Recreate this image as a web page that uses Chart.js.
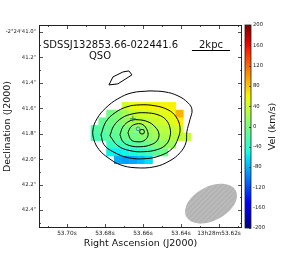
<!DOCTYPE html>
<html><head><meta charset="utf-8">
<script src="https://cdn.jsdelivr.net/npm/chart.js@4.4.0/dist/chart.umd.min.js"></script>
<style>html,body{margin:0;padding:0;background:#fff}canvas{display:block}</style>
</head><body>
<canvas id="c" width="283" height="254"></canvas>
<script>
// ---------------- data ----------------
const objectName = 'SDSSJ132853.66-022441.6';
const objectType = 'QSO';
const scaleBarLabel = '2kpc';
const scaleBarArcsec = 0.3;
const xLabel = 'Right Ascension (J2000)';
const yLabel = 'Declination (J2000)';
const cbLabel = 'Vel (km/s)';
const xTickValues = [53.62, 53.64, 53.66, 53.68, 53.70];
const xTickLabels = ['13h28m53.62s', '53.64s', '53.66s', '53.68s', '53.70s'];
const yTickValues = [41.0, 41.2, 41.4, 41.6, 41.8, 42.0, 42.2, 42.4];
const yTickLabels = ['-2°24\'41.0"', '41.2"', '41.4"', '41.6"', '41.8"', '42.0"', '42.2"', '42.4"'];
const xRange = [53.6079, 53.7147];   // RA seconds (plotted reversed)
const yRange = [40.945, 42.541];     // Dec arcsec (plotted reversed)
const velRange = [-200, 200];
const velTicks = [200, 160, 120, 80, 40, 0, -40, -80, -120, -160, -200];

// velocity map: spaxel grid (RA s, Dec arcsec of first cell centre, step)
const gridX0 = 53.6853, gridDX = -0.00405, gridY0 = 41.5831, gridDY = 0.0604;
const velRow0 = [null, null, null, null, 40, 55, 58, 60, 62, 60, 62, null, null];
const velRow1 = [null, null, -5, 5, 20, 35, 40, 42, 45, 50, 55, 88, null];
const velRow2 = [null, -12, -5, 0, 12, 22, 28, 32, 38, 42, 48, 62, null];
const velRow3 = [-22, -18, -12, -8, -2, 4, 8, 16, 24, 30, 36, 42, null];
const velRow4 = [-25, -22, -18, -14, -8, -3, 3, 10, 16, 22, 28, 32, 38];
const velRow5 = [null, null, -35, -30, -24, -18, -12, -5, 4, 10, 16, null, null];
const velRow6 = [null, null, -55, -56, -52, -46, -38, -28, -16, -6, null, null, null];
const velRow7 = [null, null, null, -82, -88, -85, -75, -62, null, null, null, null, null];
const velRows = [velRow0, velRow1, velRow2, velRow3, velRow4, velRow5, velRow6, velRow7];

// flux contours (RA s, Dec arcsec)
const contour1 = [[53.6563,41.463],[53.6484,41.471],[53.6416,41.502],[53.6363,41.557],[53.6342,41.612],[53.6353,41.690],[53.6369,41.784],[53.6374,41.871],[53.6405,41.949],[53.6458,42.012],[53.6537,42.059],[53.6642,42.067],[53.6721,42.043],[53.6784,41.988],[53.6831,41.925],[53.6858,41.847],[53.6863,41.769],[53.6842,41.682],[53.6795,41.596],[53.6732,41.525],[53.6658,41.478],[53.6563,41.463]];
const contour2 = [[53.6821,41.808],[53.6795,41.706],[53.6747,41.635],[53.6684,41.588],[53.6616,41.573],[53.6537,41.580],[53.6468,41.612],[53.6426,41.667],[53.6405,41.753],[53.6416,41.839],[53.6447,41.918],[53.6511,41.973],[53.6589,41.996],[53.6679,41.988],[53.6758,41.941],[53.6805,41.886],[53.6821,41.808]];
const contour3 = [[53.6774,41.816],[53.6753,41.737],[53.6710,41.675],[53.6653,41.643],[53.6589,41.635],[53.6521,41.651],[53.6479,41.690],[53.6458,41.753],[53.6458,41.824],[53.6479,41.886],[53.6526,41.925],[53.6595,41.941],[53.6668,41.933],[53.6732,41.894],[53.6774,41.816]];
const contour4 = [[53.6721,41.808],[53.6705,41.745],[53.6668,41.698],[53.6626,41.690],[53.6574,41.706],[53.6537,41.745],[53.6516,41.800],[53.6526,41.855],[53.6558,41.886],[53.6611,41.902],[53.6668,41.894],[53.6705,41.863],[53.6721,41.808]];
const contour5 = [[53.6679,41.792],[53.6663,41.745],[53.6632,41.722],[53.6600,41.729],[53.6579,41.769],[53.6574,41.816],[53.6595,41.855],[53.6632,41.863],[53.6663,41.847],[53.6679,41.792]];
const contourBlob = [[53.6779,41.416],[53.6732,41.408],[53.6658,41.337],[53.6674,41.306],[53.6705,41.314],[53.6758,41.353],[53.6779,41.416]];

const crossMark = [[53.6653, 41.682]];
const blueMark = [[53.6626, 41.761]];
const qsoMark = [[53.6605, 41.784]];

// beam: centre (RA s, Dec arcsec), semi-axes (arcsec), angle (deg, from horizontal)
const beamCentre = [53.6242, 42.349];
const beamAxes = [0.22, 0.133];
const beamAngle = 28;

// ---------------- helpers ----------------
const FONT = '"DejaVu Sans", Verdana, sans-serif';
const jetR = [[0,0],[0.35,0],[0.66,1],[0.89,1],[1,0.5]];
const jetG = [[0,0],[0.125,0],[0.375,1],[0.64,1],[0.91,0],[1,0]];
const jetB = [[0,0.5],[0.11,1],[0.34,1],[0.65,0],[1,0]];
function seg(tab, t) {
  for (let i = 1; i < tab.length; i++) {
    if (t <= tab[i][0]) {
      const a = tab[i-1], b = tab[i];
      return a[1] + (b[1]-a[1]) * (t-a[0]) / (b[0]-a[0]);
    }
  }
  return tab[tab.length-1][1];
}
function jet(t) {
  t = Math.max(0, Math.min(1, t));
  return 'rgb(' + Math.round(255*seg(jetR,t)) + ',' + Math.round(255*seg(jetG,t)) + ',' + Math.round(255*seg(jetB,t)) + ')';
}
function velColor(v) { return jet((v - velRange[0]) / (velRange[1] - velRange[0])); }
const pts = a => a.map(p => ({x: p[0], y: p[1]}));

const cellPoints = [], cellColors = [];
velRows.forEach((row, r) => row.forEach((v, c) => {
  if (v === null) return;
  cellPoints.push({x: gridX0 + c*gridDX, y: gridY0 + r*gridDY, v: v});
  cellColors.push(velColor(v));
}));

function cellRadius(ctx) {
  const s = ctx.chart.scales.x;
  if (!s) return 4;
  const side = Math.abs(s.getPixelForValue(gridX0) - s.getPixelForValue(gridX0 + gridDX)) + 0.4;
  return side / Math.SQRT2;
}

function contourDS(arr, tension) {
  return {type: 'scatter', data: pts(arr), showLine: true, borderColor: '#000', borderWidth: 1,
    pointRadius: 0, tension: tension, fill: false, order: 1};
}

// ---------------- plugins ----------------
const decor = {
  id: 'decor',
  afterDatasetsDraw(chart) {
    const {ctx, chartArea: ca, scales: {x, y}} = chart;
    // beam
    const cx = x.getPixelForValue(beamCentre[0]), cy = y.getPixelForValue(beamCentre[1]);
    const pxPerArc = Math.abs(y.getPixelForValue(yRange[0] + 1) - y.getPixelForValue(yRange[0]));
    const a = beamAxes[0]*pxPerArc, b = beamAxes[1]*pxPerArc;
    ctx.save();
    ctx.beginPath();
    ctx.ellipse(cx, cy, a, b, -beamAngle*Math.PI/180, 0, Math.PI*2);
    ctx.fillStyle = '#b3b3b3';
    ctx.fill();
    ctx.clip();
    ctx.strokeStyle = '#c9c9c9';
    ctx.lineWidth = 0.8;
    for (let k = -80; k <= 80; k += 5) {
      ctx.beginPath();
      ctx.moveTo(cx + k - 40, cy + 40);
      ctx.lineTo(cx + k + 40, cy - 40);
      ctx.stroke();
    }
    ctx.restore();
  },
  afterDraw(chart) {
    const {ctx, chartArea: ca, scales: {x, y, cb}} = chart;
    ctx.save();
    // frame
    ctx.strokeStyle = '#222';
    ctx.lineWidth = 1;
    ctx.strokeRect(ca.left + 0.5, ca.top + 0.5, ca.right - ca.left - 1, ca.bottom - ca.top - 1);
    // x ticks (major 0.02 s, minor 0.01 s)
    ctx.lineWidth = 0.8;
    for (let k = Math.ceil(x.min/0.01 - 1e-6); k <= Math.floor(x.max/0.01 + 1e-6); k++) {
      const v = k*0.01, px = Math.round(x.getPixelForValue(v)) + 0.5;
      const maj = (k % 2 === 0), L = maj ? 4 : 2;
      ctx.beginPath();
      ctx.moveTo(px, ca.bottom); ctx.lineTo(px, ca.bottom - L);
      ctx.moveTo(px, ca.top); ctx.lineTo(px, ca.top + L);
      ctx.stroke();
    }
    // y ticks (major 0.2", minor 0.1")
    for (let k = Math.ceil(y.min*10 - 1e-6); k <= Math.floor(y.max*10 + 1e-6); k++) {
      const v = k/10, py = Math.round(y.getPixelForValue(v)) + 0.5;
      const maj = (k % 2 === 0), L = maj ? 4 : 2;
      ctx.beginPath();
      ctx.moveTo(ca.left, py); ctx.lineTo(ca.left + L, py);
      ctx.moveTo(ca.right, py); ctx.lineTo(ca.right - L, py);
      ctx.stroke();
    }
    // colour bar
    const bx = ca.right + 3, bw = 6;
    const t0 = cb.getPixelForValue(velRange[1]), t1 = cb.getPixelForValue(velRange[0]);
    const g = ctx.createLinearGradient(0, t0, 0, t1);
    for (let i = 0; i <= 40; i++) g.addColorStop(i/40, jet(1 - i/40));
    ctx.fillStyle = g;
    ctx.fillRect(bx, t0, bw, t1 - t0);
    ctx.strokeStyle = '#222';
    ctx.lineWidth = 0.8;
    ctx.strokeRect(bx, t0, bw, t1 - t0);
    velTicks.forEach(v => {
      const py = Math.round(cb.getPixelForValue(v)) + 0.5;
      ctx.beginPath(); ctx.moveTo(bx + bw, py); ctx.lineTo(bx + bw - 2, py); ctx.stroke();
    });
    // colour bar label
    ctx.fillStyle = '#111';
    ctx.font = '9.5px ' + FONT;
    ctx.textAlign = 'center'; ctx.textBaseline = 'middle';
    ctx.translate(273, (ca.top + ca.bottom)/2);
    ctx.rotate(-Math.PI/2);
    ctx.fillText(cbLabel, 0, 0);
    ctx.setTransform(1,0,0,1,0,0);
    // object name
    ctx.font = '10px ' + FONT;
    ctx.fillStyle = '#111';
    ctx.textAlign = 'left';
    ctx.fillText(objectName, ca.left + 4, ca.top + 20);
    ctx.textAlign = 'center';
    ctx.fillText(objectType, ca.left + 61, ca.top + 31);
    // scale bar
    const pxPerArc = Math.abs(y.getPixelForValue(yRange[0] + 1) - y.getPixelForValue(yRange[0]));
    const sbLen = scaleBarArcsec * pxPerArc, sbC = ca.right - 31;
    ctx.fillText(scaleBarLabel, sbC, ca.top + 20);
    ctx.strokeStyle = '#000'; ctx.lineWidth = 1;
    ctx.beginPath();
    ctx.moveTo(sbC - sbLen/2, ca.top + 25.5); ctx.lineTo(sbC + sbLen/2, ca.top + 25.5);
    ctx.stroke();
    ctx.restore();
  }
};

// ---------------- chart ----------------
new Chart(document.getElementById('c'), {
  type: 'scatter',
  data: {
    datasets: [
      {data: cellPoints, order: 10, pointStyle: 'rect', pointRadius: cellRadius, pointBorderWidth: 0,
       borderWidth: 0, pointBackgroundColor: cellColors, backgroundColor: cellColors},
      contourDS(contour1, 0.4), contourDS(contour2, 0.4), contourDS(contour3, 0.4),
      contourDS(contour4, 0.4), contourDS(contour5, 0.4), contourDS(contourBlob, 0),
      {data: pts(crossMark), order: 0, pointStyle: 'cross', pointRadius: 3, borderColor: '#2b8c5a', borderWidth: 1, backgroundColor: 'transparent'},
      {data: pts(blueMark), order: 0, pointStyle: 'circle', pointRadius: 1.8, borderColor: '#3a7fd0', borderWidth: 1, backgroundColor: 'transparent'},
      {data: pts(qsoMark), order: 0, pointStyle: 'circle', pointRadius: 2.4, borderColor: '#000', borderWidth: 1, backgroundColor: 'transparent'}
    ]
  },
  options: {
    responsive: false, animation: false, events: [],
    layout: {padding: {top: 25, left: 0, right: 0, bottom: 0}},
    plugins: {legend: {display: false}, tooltip: {enabled: false}},
    scales: {
      x: {type: 'linear', position: 'bottom', reverse: true, min: xRange[0], max: xRange[1],
        grid: {display: false, drawTicks: false}, border: {display: false},
        afterBuildTicks: s => { s.ticks = xTickValues.map(v => ({value: v})); },
        afterFit: s => { s.height = 26; },
        ticks: {autoSkip: false, maxRotation: 0, padding: 2, color: '#222',
          font: {family: FONT, size: 5.8},
          callback: v => { const i = xTickValues.findIndex(t => Math.abs(t - v) < 1e-6); return i >= 0 ? xTickLabels[i] : ''; }},
        title: {display: true, text: xLabel, color: '#111', font: {family: FONT, size: 9.5}, padding: {top: 0, bottom: 5}}
      },
      y: {type: 'linear', position: 'left', reverse: true, min: yRange[0], max: yRange[1],
        grid: {display: false, drawTicks: false}, border: {display: false},
        afterBuildTicks: s => { s.ticks = yTickValues.map(v => ({value: v})); },
        afterFit: s => { s.width = 39; },
        ticks: {autoSkip: false, padding: 3, color: '#222', font: {family: FONT, size: 5.3},
          callback: v => { const i = yTickValues.findIndex(t => Math.abs(t - v) < 1e-6); return i >= 0 ? yTickLabels[i] : ''; }},
        title: {display: true, text: yLabel, color: '#111', font: {family: FONT, size: 9.5}, padding: {top: 2, bottom: 0}}
      },
      cb: {type: 'linear', position: 'right', min: velRange[0], max: velRange[1],
        grid: {display: false, drawTicks: false}, border: {display: false},
        afterBuildTicks: s => { s.ticks = velTicks.map(v => ({value: v})); },
        afterFit: s => { s.width = 41; },
        ticks: {autoSkip: false, padding: 11, color: '#222', font: {family: FONT, size: 5.3}}
      }
    }
  },
  plugins: [decor]
});
</script>
</body></html>
